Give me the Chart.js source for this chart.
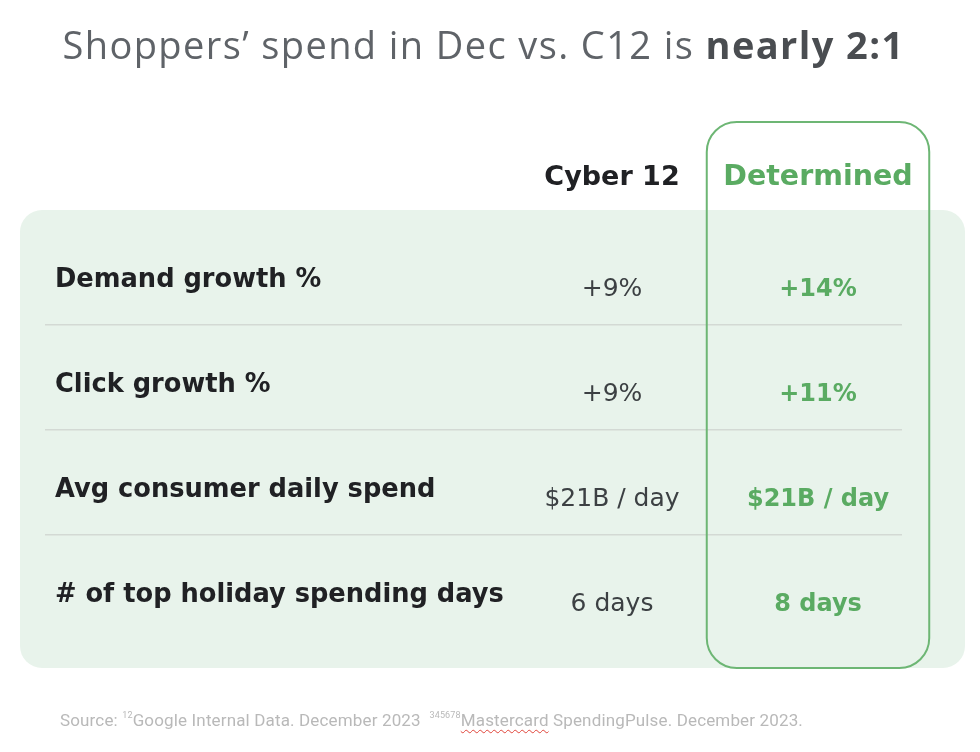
<!DOCTYPE html>
<html>
<head>
<meta charset="utf-8">
<script src="https://cdn.jsdelivr.net/npm/chart.js@4"></script>
<style>
  html, body { margin: 0; padding: 0; background: #fff; }
  #wrap { position: relative; width: 980px; height: 752px; overflow: hidden; }
  #wrap canvas { position: absolute; left: 0; top: 0; }
  #title {
    position: absolute; left: 0; width: 967px; top: 19px;
    text-align: center; font-family: "Open Sans", sans-serif; font-size: 38px;
    letter-spacing: 1.4px; line-height: 50px; color: #5f6368; white-space: nowrap;
  }
  #title b { font-weight: 700; color: #4a4d51; }
  #source {
    position: absolute; left: 60px; top: 708px;
    font-family: Roboto, sans-serif; font-size: 17px; line-height: 24px;
    letter-spacing: 0.15px; color: #b9b9b9; white-space: nowrap;
  }
  #source sup { font-size: 9px; vertical-align: 8px; line-height: 0; }
  #source .sp { text-decoration: underline wavy #e0443a; text-decoration-thickness: 1px; text-underline-offset: 3px; }
</style>
</head>
<body>
<div id="wrap">
  <canvas id="tableChart" width="980" height="752"></canvas>
  <div id="title">Shoppers’ spend in Dec vs. C12 is <b>nearly 2:1</b></div>
  <div id="source">Source: <sup>12</sup>Google Internal Data. December 2023 &nbsp;<sup>345678</sup><span class="sp">Mastercard</span> SpendingPulse. December 2023.</div>
</div>
<script>
// table content
const columns = ['Cyber 12', 'Determined'];
const rowLabels = ['Demand growth %', 'Click growth %', 'Avg consumer daily spend', '# of top holiday spending days'];
const cyber12Values = ['+9%', '+9%', '$21B / day', '6 days'];
const determinedValues = ['+14%', '+11%', '$21B / day', '8 days'];

const GREEN = '#5aab62';
const DARK = '#202124';
const FONT = '"DejaVu Sans"';

function roundRect(ctx, x, y, w, h, r) {
  ctx.beginPath();
  ctx.moveTo(x + r, y);
  ctx.arcTo(x + w, y, x + w, y + h, r);
  ctx.arcTo(x + w, y + h, x, y + h, r);
  ctx.arcTo(x, y + h, x, y, r);
  ctx.arcTo(x, y, x + w, y, r);
  ctx.closePath();
}

// background panel, highlighted column box and row separators
const tableBackground = {
  id: 'tableBackground',
  beforeDraw(chart) {
    const { ctx, chartArea, scales } = chart;
    const band = scales.x.getPixelForValue(1) - scales.x.getPixelForValue(0);
    const rowBand = scales.y.getPixelForValue(1) - scales.y.getPixelForValue(0);
    ctx.save();
    ctx.fillStyle = '#e8f3eb';
    roundRect(ctx, 20, chartArea.top - 16, 945, chartArea.bottom - chartArea.top + 38, 22);
    ctx.fill();

    ctx.strokeStyle = '#d3d9d4';
    ctx.lineWidth = 1.5;
    for (let i = 0; i < rowLabels.length - 1; i++) {
      const y = (scales.y.getPixelForValue(i) + scales.y.getPixelForValue(i + 1)) / 2 - rowBand * 0.06;
      ctx.beginPath();
      ctx.moveTo(45, y);
      ctx.lineTo(902, y);
      ctx.stroke();
    }

    const cx = scales.x.getPixelForValue(1);
    ctx.strokeStyle = '#6db674';
    ctx.lineWidth = 2;
    roundRect(ctx, cx - band * 0.54, 122, band * 1.08, chartArea.bottom + 22 - 122, 30);
    ctx.stroke();
    ctx.restore();
  }
};

// header, row labels and cell texts
const tableText = {
  id: 'tableText',
  afterDatasetsDraw(chart) {
    const { ctx, scales, chartArea } = chart;
    ctx.save();
    ctx.textBaseline = 'middle';

    ctx.textAlign = 'center';
    columns.forEach((c, i) => {
      ctx.font = `700 ${i === 0 ? 27 : 28.5}px ${FONT}`;
      ctx.fillStyle = i === 0 ? DARK : GREEN;
      ctx.fillText(c, scales.x.getPixelForValue(i), chartArea.top - 48);
    });

    ctx.textAlign = 'left';
    ctx.font = `700 25.7px ${FONT}`;
    ctx.fillStyle = DARK;
    rowLabels.forEach((r, i) => {
      ctx.fillText(r, 55, scales.y.getPixelForValue(i) + 2);
    });

    ctx.textAlign = 'center';
    chart.data.datasets.forEach((ds, di) => {
      const meta = chart.getDatasetMeta(di);
      ctx.font = di === 0 ? `400 25px ${FONT}` : `700 24px ${FONT}`;
      ctx.fillStyle = di === 0 ? '#3c4043' : GREEN;
      meta.data.forEach((pt, i) => {
        ctx.fillText(ds.texts[i], pt.x, pt.y + 11);
      });
    });
    ctx.restore();
  }
};

const ctx = document.getElementById('tableChart').getContext('2d');
const tableChart = new Chart(ctx, {
  type: 'line',
  data: {
    datasets: [
      { label: columns[0], texts: cyber12Values, data: rowLabels.map(r => ({ x: columns[0], y: r })) },
      { label: columns[1], texts: determinedValues, data: rowLabels.map(r => ({ x: columns[1], y: r })) }
    ]
  },
  options: {
    responsive: false,
    devicePixelRatio: 1,
    animation: false,
    events: [],
    showLine: false,
    pointRadius: 0,
    layout: { autoPadding: false, padding: { left: 509, right: 59, top: 226, bottom: 106 } },
    plugins: { legend: { display: false }, tooltip: { enabled: false } },
    scales: {
      x: { type: 'category', labels: columns, offset: true, display: false },
      y: { type: 'category', labels: rowLabels, offset: true, display: false }
    }
  },
  plugins: [tableBackground, tableText]
});
</script>
</body>
</html>
